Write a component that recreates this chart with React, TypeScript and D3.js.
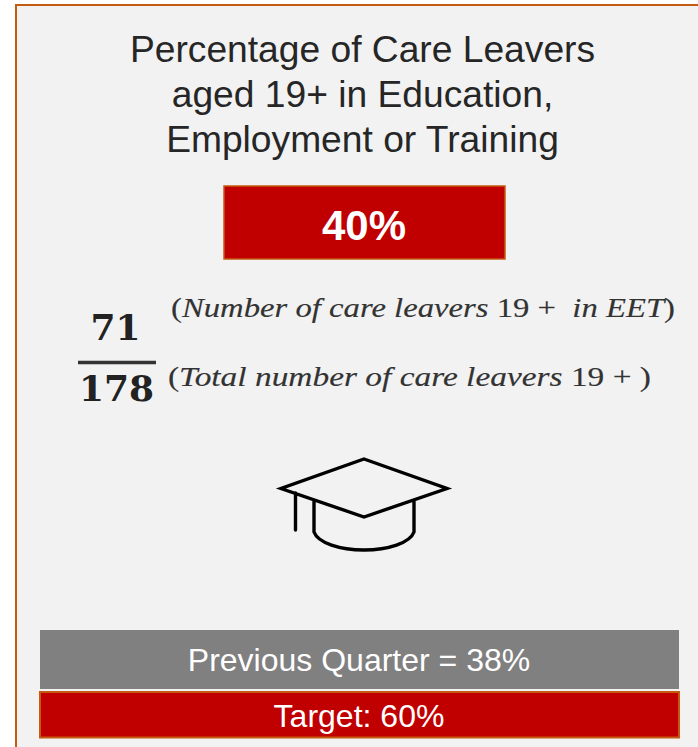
import * as d3 from 'd3';
import { useEffect, useRef } from 'react';

const titleLines = ['Percentage of Care Leavers', 'aged 19+ in Education,', 'Employment or Training'];
const currentPct = 40;
const numerator = 71;
const denominator = 178;
const previousPct = 38;
const targetPct = 60;
const numeratorNote = [
    { t: '(', italic: false },
    { t: 'Number of care leavers ', italic: true },
    { t: '19 +  ', italic: false },
    { t: 'in EET', italic: true },
    { t: ')', italic: false },
];
const denominatorNote = [
    { t: '(', italic: false },
    { t: 'Total number of care leavers ', italic: true },
    { t: '19 + ', italic: false },
    { t: ')', italic: false },
];

const width = 698, height = 747;
const orange = '#C55A11', red = '#C00000', sans = '"Liberation Sans", Arial, sans-serif', serif = '"Liberation Serif", serif', boldSerif = '"DejaVu Serif", serif';

export default function App() {
    const ref = useRef<SVGSVGElement>(null);

    useEffect(() => {
        drawCard();
    }, []);

    function drawCard() {
        const svg = d3.select(ref.current);
        svg.selectAll('*').remove();

        // Card runs off the right and bottom of the picture
        svg.append('rect').attr('x', 16).attr('y', 5).attr('width', 720).attr('height', 780)
            .attr('fill', '#F2F2F2').attr('stroke', orange).attr('stroke-width', 2);

        svg.append('g').selectAll('text').data(titleLines).enter().append('text')
            .attr('x', 362.5).attr('y', (d, i) => 62 + i * 45)
            .attr('text-anchor', 'middle').attr('font-family', sans).attr('font-size', 37.2)
            .attr('fill', '#262626').text(d => d);

        // Headline value
        svg.append('rect').attr('x', 224).attr('y', 186).attr('width', 281).attr('height', 73)
            .attr('fill', red).attr('stroke', orange).attr('stroke-width', 1.5);
        svg.append('text').attr('x', 364).attr('y', 240).attr('text-anchor', 'middle')
            .attr('font-family', sans).attr('font-weight', 700).attr('font-size', 42)
            .attr('fill', '#fff').text(currentPct + '%');

        // Fraction
        const frac = svg.append('g').attr('font-family', boldSerif).attr('font-weight', 700)
            .attr('font-size', 36).attr('fill', '#222').attr('text-anchor', 'middle');
        frac.append('text').attr('x', 115.5).attr('y', 340).text(numerator);
        frac.append('text').attr('x', 116.5).attr('y', 401).text(denominator);
        svg.append('line').attr('x1', 78).attr('x2', 156).attr('y1', 362.5).attr('y2', 362.5)
            .attr('stroke', '#333').attr('stroke-width', 3.5);

        const note = (parts: { t: string; italic: boolean }[], x: number, y: number, w: number) => {
            const t = svg.append('text').attr('x', x).attr('y', y)
                .attr('font-family', serif).attr('font-size', 27).attr('fill', '#333')
                .attr('stroke', '#333').attr('stroke-width', 0.15)
                .attr('textLength', w).attr('lengthAdjust', 'spacingAndGlyphs')
                .attr('xml:space', 'preserve').style('white-space', 'pre');
            t.selectAll('tspan').data(parts).enter().append('tspan')
                .attr('font-style', d => (d.italic ? 'italic' : 'normal')).text(d => d.t);
        };
        note(numeratorNote, 171, 317, 504);
        note(denominatorNote, 168, 386, 483);

        // Graduation cap icon
        const cap = d3.path();
        cap.moveTo(364, 459); cap.lineTo(447, 488.5); cap.lineTo(364, 517); cap.lineTo(281, 488.5); cap.closePath();
        cap.moveTo(295.5, 493); cap.lineTo(295.5, 530);
        cap.moveTo(314, 500); cap.lineTo(314, 532);
        cap.bezierCurveTo(318, 543, 340, 550, 364, 550);
        cap.bezierCurveTo(388, 550, 410, 543, 414, 532);
        cap.lineTo(414, 500);
        svg.append('path').attr('d', cap.toString()).attr('fill', 'none').attr('stroke', '#000')
            .attr('stroke-width', 3.4).attr('stroke-linejoin', 'miter').attr('stroke-linecap', 'round');

        // Comparison bars
        svg.append('rect').attr('x', 40).attr('y', 630).attr('width', 639).attr('height', 59).attr('fill', '#808080');
        svg.append('rect').attr('x', 40).attr('y', 692).attr('width', 639).attr('height', 45.5)
            .attr('fill', red).attr('stroke', orange).attr('stroke-width', 2);
        const barText = svg.append('g').attr('font-family', sans).attr('font-size', 32)
            .attr('fill', '#fff').attr('text-anchor', 'middle');
        barText.append('text').attr('x', 359).attr('y', 671).text(`Previous Quarter = ${previousPct}%`);
        barText.append('text').attr('x', 359).attr('y', 727).text(`Target: ${targetPct}%`);
    }

    return <svg ref={ref} width={width} height={height} style={{ position: 'absolute', left: 0, top: 0 }} />;
}
